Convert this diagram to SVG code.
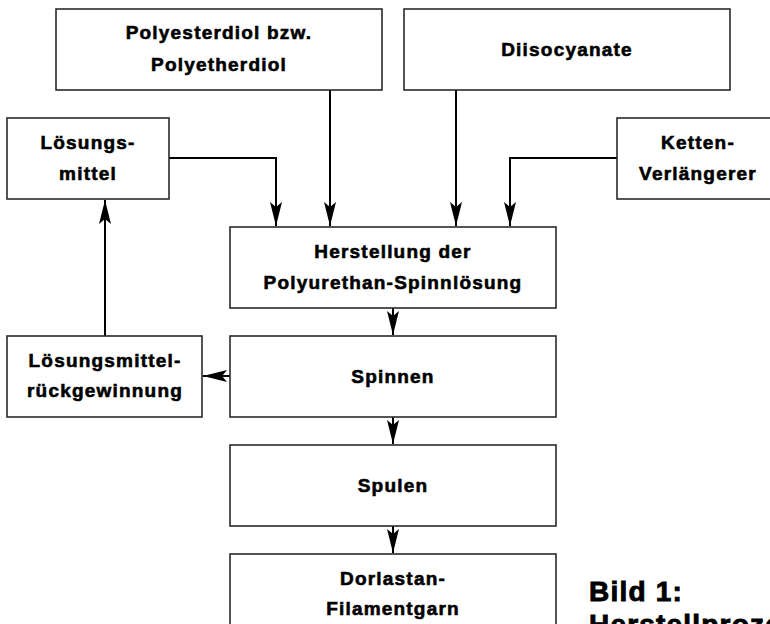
<svg xmlns="http://www.w3.org/2000/svg" width="770" height="624" viewBox="0 0 770 624">
<style>
.box{fill:#fff;stroke:#2a2a2a;stroke-width:1.6}
.t{font-family:"Liberation Sans",Arial,Helvetica,sans-serif;font-weight:bold;font-size:19px;letter-spacing:1.2px;text-anchor:middle;fill:#000;stroke:#000;stroke-width:0.6}
.cap{font-family:"Liberation Sans",Arial,Helvetica,sans-serif;font-weight:bold;font-size:28px;letter-spacing:1.2px;fill:#000;stroke:#000;stroke-width:0.9}
.c{fill:none;stroke:#000;stroke-width:2}
</style>
<defs>
<marker id="ah" markerUnits="userSpaceOnUse" markerWidth="24" markerHeight="12" viewBox="0 0 24 12" refX="24" refY="6" orient="auto">
<path d="M0,0 L24,6 L0,12 L5,6 Z" fill="#000"/>
</marker>
</defs>
<rect width="770" height="624" fill="#fff"/>
<g id="connectors">
<path class="c" d="M330,90 V226" marker-end="url(#ah)"/>
<path class="c" d="M456,90 V226" marker-end="url(#ah)"/>
<path class="c" d="M169,158 H276 V226" marker-end="url(#ah)"/>
<path class="c" d="M617,158 H510 V226" marker-end="url(#ah)"/>
<path class="c" d="M393,308 V335" marker-end="url(#ah)"/>
<path class="c" d="M393,417 V444" marker-end="url(#ah)"/>
<path class="c" d="M393,526 V553" marker-end="url(#ah)"/>
<path class="c" d="M230,376 H203" marker-end="url(#ah)"/>
<path class="c" d="M105,336 V200" marker-end="url(#ah)"/>
</g>
<g id="polyesterdiol">
<rect class="box" x="56" y="9" width="326" height="81"/>
<text class="t" x="219" y="39">Polyesterdiol bzw.</text>
<text class="t" x="219" y="71">Polyetherdiol</text>
</g>
<g id="diisocyanate">
<rect class="box" x="404" y="9" width="326" height="81"/>
<text class="t" x="567" y="56">Diisocyanate</text>
</g>
<g id="loesungsmittel">
<rect class="box" x="7" y="118" width="162" height="81"/>
<text class="t" x="88" y="149">Lösungs-</text>
<text class="t" x="88" y="180">mittel</text>
</g>
<g id="kettenverlaengerer">
<rect class="box" x="617" y="118" width="162" height="81"/>
<text class="t" x="698" y="149">Ketten-</text>
<text class="t" x="698" y="180">Verlängerer</text>
</g>
<g id="herstellung">
<rect class="box" x="230" y="227" width="326" height="81"/>
<text class="t" x="393" y="258">Herstellung der</text>
<text class="t" x="393" y="289">Polyurethan-Spinnlösung</text>
</g>
<g id="spinnen">
<rect class="box" x="230" y="336" width="326" height="81"/>
<text class="t" x="393" y="383">Spinnen</text>
</g>
<g id="rueckgewinnung">
<rect class="box" x="7" y="336" width="195" height="81"/>
<text class="t" x="105" y="367">Lösungsmittel-</text>
<text class="t" x="105" y="397">rückgewinnung</text>
</g>
<g id="spulen">
<rect class="box" x="230" y="445" width="326" height="81"/>
<text class="t" x="393" y="492">Spulen</text>
</g>
<g id="dorlastan">
<rect class="box" x="230" y="554" width="326" height="81"/>
<text class="t" x="393" y="585">Dorlastan-</text>
<text class="t" x="393" y="615">Filamentgarn</text>
</g>
<g id="caption">
<text class="cap" x="589" y="601">Bild 1:</text>
<text class="cap" x="589" y="634">Herstellprozess</text>
</g>
</svg>
